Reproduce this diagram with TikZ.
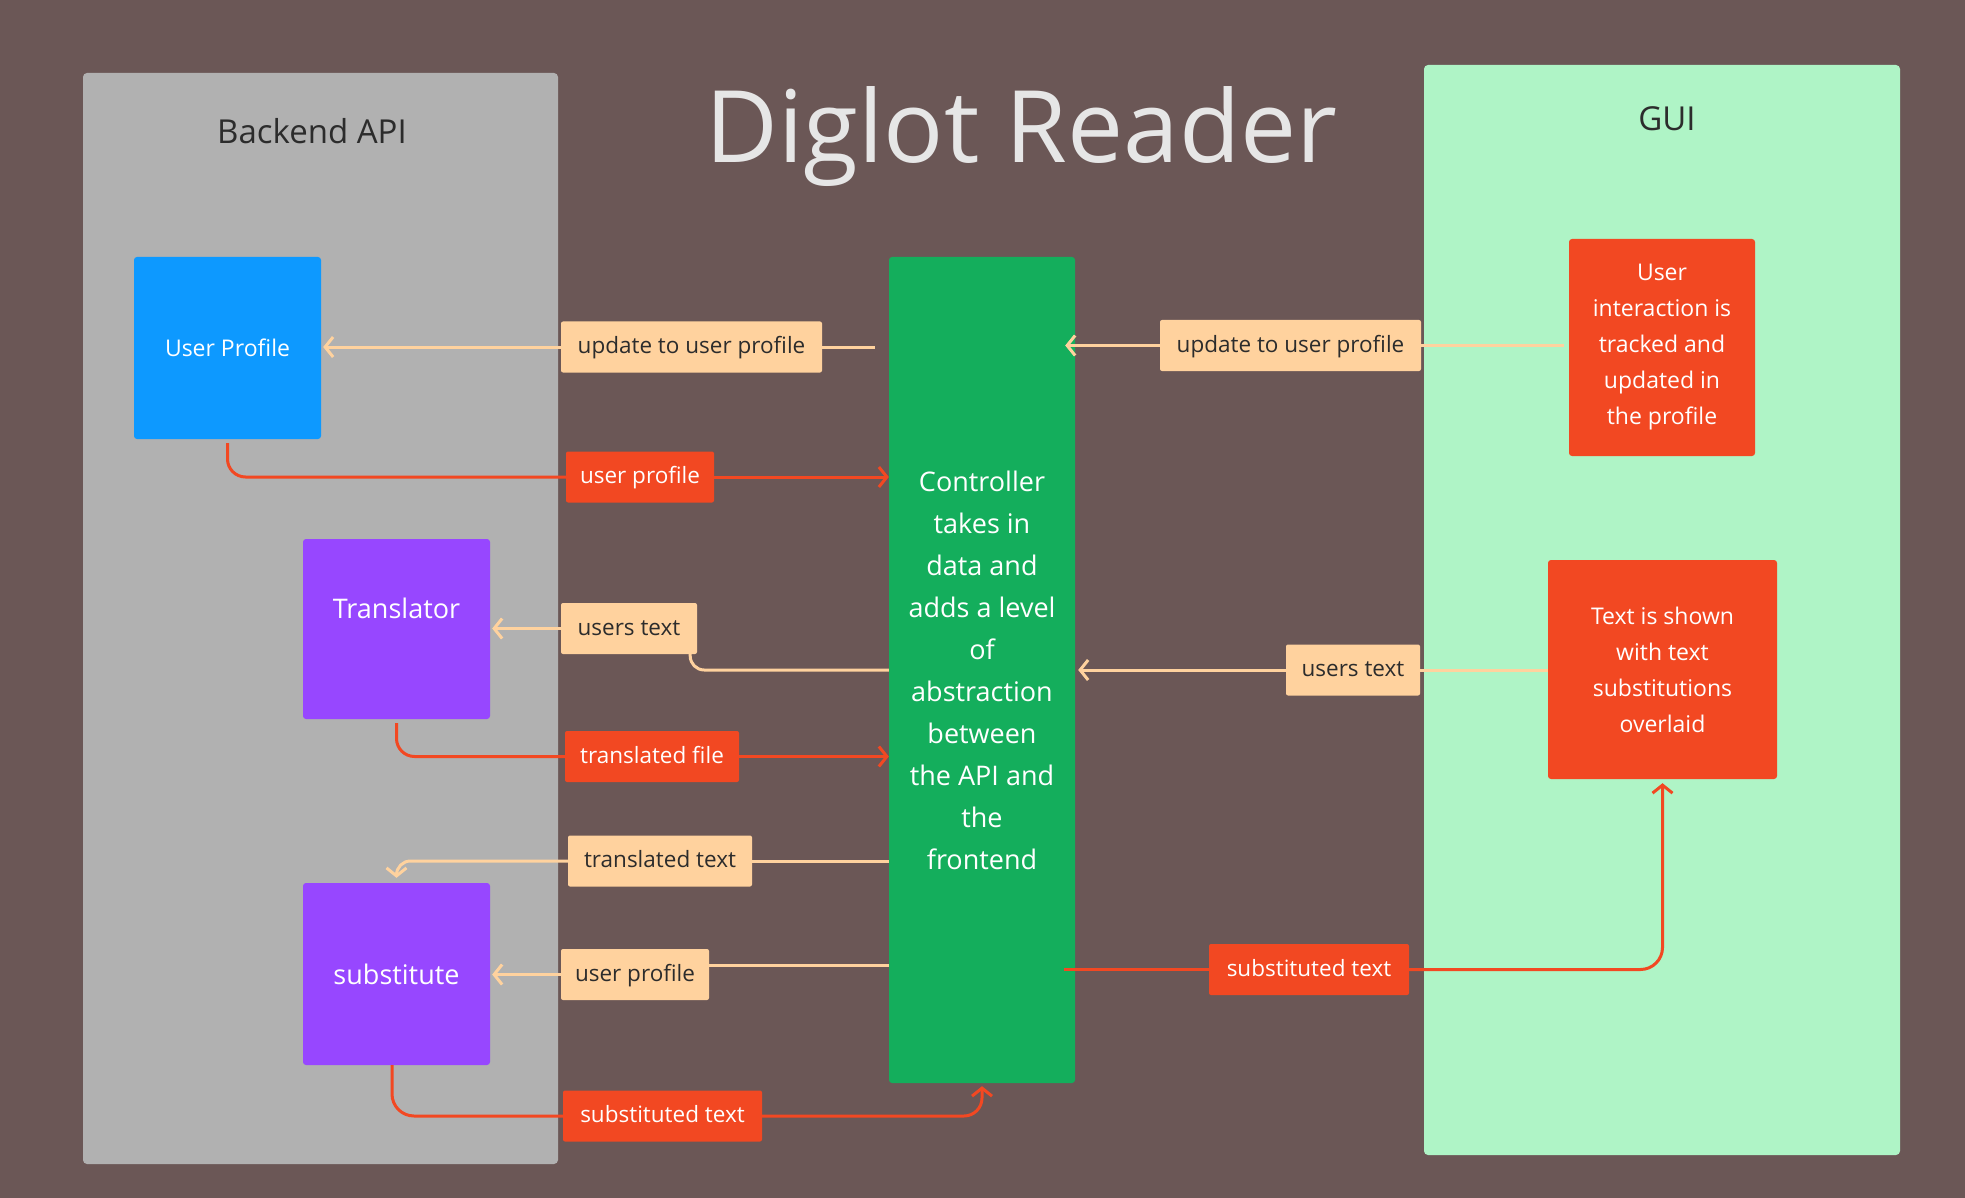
\documentclass[tikz,border=0pt]{standalone}
\usepackage{fontspec}
\setmainfont{Open Sans}
\usetikzlibrary{arrows.meta}
\definecolor{bgc}{HTML}{6B5756}
\definecolor{panelgray}{HTML}{B1B1B1}
\definecolor{panelgreen}{HTML}{AFF4C6}
\definecolor{fblue}{HTML}{0D99FF}
\definecolor{fpurple}{HTML}{9747FF}
\definecolor{fgreen}{HTML}{14AE5C}
\definecolor{fred}{HTML}{F24822}
\definecolor{fpeach}{HTML}{FFD29E}
\definecolor{titlec}{HTML}{E6E6E6}
\definecolor{darktext}{HTML}{2C2C2C}
\tikzset{
  panel/.style={rectangle, rounded corners=4pt, inner sep=0pt},
  blockbox/.style={rectangle, rounded corners=3pt, inner sep=0pt, text=white},
  peachlbl/.style={rectangle, rounded corners=2pt, fill=fpeach, text=darktext, minimum height=51pt, inner sep=0pt, text height=18.5pt, text depth=5pt, font=\fontsize{22.5}{26}\selectfont},
  redlbl/.style={rectangle, rounded corners=2pt, fill=fred, text=white, minimum height=51pt, inner sep=0pt, text height=18.5pt, text depth=5pt, font=\fontsize{22.5}{26}\selectfont},
  peachline/.style={draw=fpeach, line width=3pt},
  redline/.style={draw=fred, line width=3pt},
  barb/.style={-{Straight Barb[length=8pt,width=20pt]}},
}
\begin{document}
\begin{tikzpicture}[x=1pt,y=-1pt]
\fill[bgc] (0,0) rectangle (1965,1198);
\useasboundingbox (0,0) rectangle (1965,1198);

% panels
\node[panel, fill=panelgray, minimum width=475pt, minimum height=1091pt] (backend) at (320.5,618.5) {};
\node[font=\fontsize{33}{40}\selectfont, text=darktext] (backendt) at (312,131) {Backend API};
\node[panel, fill=panelgreen, minimum width=476pt, minimum height=1090pt] (gui) at (1662,610) {};
\node[font=\fontsize{33}{40}\selectfont, text=darktext] (guit) at (1667,119) {GUI};
\node[font=\fontsize{100}{120}\selectfont, text=titlec, anchor=base] (title) at (1021.5,163) {Diglot Reader};

% blocks
\node[blockbox, fill=fblue, minimum width=187pt, minimum height=182pt, font=\fontsize{23}{28}\selectfont] (up) at (227.5,348) {User Profile};
\node[blockbox, fill=fpurple, minimum width=187pt, minimum height=180pt] (tr) at (396.5,629) {};
\node[text=white, font=\fontsize{27}{32}\selectfont] (trt) at (396.5,608) {Translator};
\node[blockbox, fill=fpurple, minimum width=187pt, minimum height=182pt, font=\fontsize{27}{32}\selectfont] (sub) at (396.5,974) {substitute};
\node[blockbox, fill=fgreen, minimum width=186pt, minimum height=826pt, align=center, font=\fontsize{27}{42}\selectfont] (ctl) at (982,670) {Controller\\takes in\\data and\\adds a level\\of\\abstraction\\between\\the API and\\the\\frontend};
\node[blockbox, fill=fred, minimum width=186pt, minimum height=217pt, align=center, font=\fontsize{23}{36}\selectfont] (ui) at (1662,347.5) {User\\interaction is\\tracked and\\updated in\\the profile};
\node[blockbox, fill=fred, minimum width=229pt, minimum height=219pt, align=center, font=\fontsize{23}{36}\selectfont] (ts) at (1662.5,669.5) {Text is shown\\with text\\substitutions\\overlaid};

% labels
\node[peachlbl, minimum width=261pt] (l1) at (691.5,347) {update to user profile};
\node[redlbl, minimum width=148pt] (l2) at (640,477) {user profile};
\node[peachlbl, minimum width=136pt] (l3) at (629,628.5) {users text};
\node[redlbl, minimum width=174pt] (l4) at (652,756.5) {translated file};
\node[peachlbl, minimum width=184pt] (l5) at (660,861) {translated text};
\node[peachlbl, minimum width=148pt] (l6) at (635,974.5) {user profile};
\node[redlbl, minimum width=199pt] (l7) at (662.5,1116) {substituted text};
\node[peachlbl, minimum width=261pt] (l8) at (1290.5,345.5) {update to user profile};
\node[peachlbl, minimum width=134pt] (l9) at (1353,670) {users text};
\node[redlbl, minimum width=200pt] (l10) at (1309,969.5) {substituted text};

% connectors (left side)
\draw[peachline, shorten <=14pt] (ctl.west |- l1.east) -- (l1.east);
\draw[peachline, barb, shorten >=2pt] (l1.west) -- (up.east |- l1.west);

\draw[redline, rounded corners=18pt] ([yshift=-4pt]up.south) -- (up.south |- l2.west) -- (l2.west);
\draw[redline, barb] (l2.east) -- (ctl.west |- l2.east);

\coordinate (l3b) at ([xshift=-7pt]l3.south east);
\draw[peachline, rounded corners=14pt] (ctl.west) -- (l3b |- ctl.west) -- (l3b);
\draw[peachline, barb, shorten >=2pt] (l3.west) -- (tr.east |- l3.west);

\draw[redline, rounded corners=18pt] ([yshift=-4pt]tr.south) -- (tr.south |- l4.west) -- (l4.west);
\draw[redline, barb] (l4.east) -- (ctl.west |- l4.east);

\draw[peachline] (ctl.west |- l5.east) -- (l5.east);
\draw[peachline, barb, rounded corners=14pt, shorten >=5pt] (l5.west) -- (sub.north |- l5.west) -- (sub.north);

\coordinate (l6e) at ([yshift=9.5pt]l6.east);
\draw[peachline] (ctl.west |- l6e) -- (l6e);
\draw[peachline, barb, shorten >=2pt] (l6.west) -- (sub.east |- l6.west);

\coordinate (subs) at ([xshift=-4.5pt]sub.south);
\draw[redline, rounded corners=22pt] (subs) -- (subs |- l7.west) -- (l7.west);
\draw[redline, barb, rounded corners=18pt, shorten >=3pt] (l7.east) -- (ctl.south |- l7.east) -- (ctl.south);

% connectors (right side)
\draw[peachline, shorten <=5pt] (ui.west |- l8.east) -- (l8.east);
\draw[peachline, barb, shorten >=-10pt] (l8.west) -- (ctl.east |- l8.west);

\draw[peachline] (ts.west |- l9.east) -- (l9.east);
\draw[peachline, barb, shorten >=3pt] (l9.west) -- (ctl.east |- l9.west);

\draw[redline, shorten <=-11pt] (ctl.east |- l10.west) -- (l10.west);
\draw[redline, barb, rounded corners=22pt, shorten >=4pt] (l10.east) -- (ts.south |- l10.east) -- (ts.south);
\end{tikzpicture}
\end{document}
